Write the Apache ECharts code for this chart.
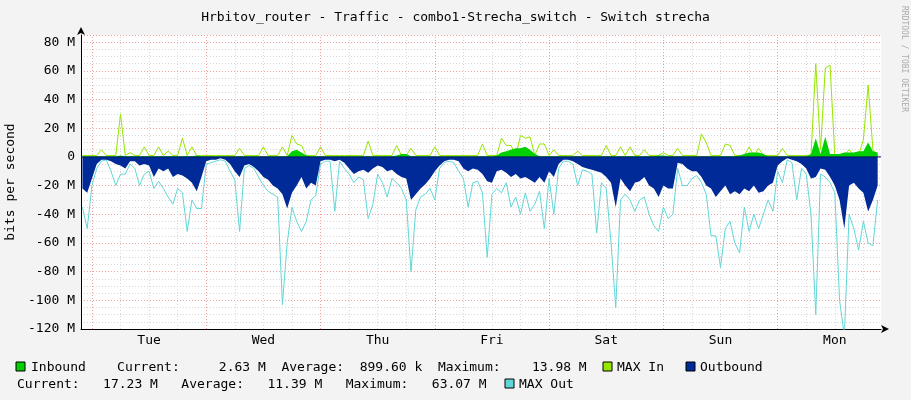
<!DOCTYPE html>
<html><head><meta charset="utf-8">
<script src="https://cdn.jsdelivr.net/npm/echarts@6/dist/echarts.min.js"></script>
<style>html,body{margin:0;padding:0;background:#f3f3f3}#c{width:911px;height:400px}</style>
</head><body><div id="c"></div>
<script>
const START_HOUR = -2;
const dayLabels = ['Tue','Wed','Thu','Fri','Sat','Sun','Mon'];
const yTicks = [-120,-100,-80,-60,-40,-20,0,20,40,60,80];
// hourly samples, Mbit/s, from hour -2 to 165 (hour 0 = Tue 00:00)
const maxOut = [-35,-50,-20,-8,-3,-2,-10,-20,-12,-12,-5,-8,-20,-12,-10,-22,-17,-22,-28,-33,-22,-25,-52,-30,-36,-36,
 -5,-4,-3,-2,-3,-10,-16,-52,-8,-6,-8,-14,-20,-24,-26,-28,-103,-60,-35,-45,-52,-45,-30,-27,
 -5,-3,-3,-38,-3,-8,-12,-18,-14,-16,-43,-33,-12,-18,-28,-15,-18,-22,-30,-80,-37,-28,-26,-22,
 -30,-8,-4,-3,-4,-10,-15,-35,-18,-17,-25,-70,-26,-22,-25,-18,-35,-28,-40,-25,-38,-33,-24,-50,
 -15,-40,-8,-3,-3,-5,-20,-9,-10,-12,-53,-18,-22,-60,-105,-30,-26,-30,-38,-30,-28,-40,-48,-52,
 -35,-43,-40,-8,-20,-20,-15,-13,-18,-26,-55,-55,-77,-50,-45,-60,-67,-35,-52,-40,-50,-40,-30,-38,
 -10,-18,-2,-4,-30,-8,-12,-40,-110,-12,-14,-18,-25,-100,-125,-40,-50,-65,-45,-60,-62,-30];
const outbound = [-22,-25,-15,-5,-2,-2,-3,-5,-6,-8,-3,-3,-6,-5,-6,-14,-8,-10,-8,-14,-12,-13,-15,-18,-24,-14,
 -3,-2,-2,-1,-2,-5,-10,-14,-6,-5,-7,-10,-14,-16,-20,-22,-26,-36,-25,-20,-14,-22,-18,-20,
 -3,-2,-2,-3,-2,-4,-8,-12,-10,-9,-11,-8,-6,-7,-10,-9,-12,-14,-15,-30,-26,-22,-19,-15,
 -10,-6,-3,-2,-2,-3,-8,-10,-8,-9,-12,-17,-18,-10,-9,-11,-14,-12,-15,-14,-16,-18,-14,-18,
 -10,-14,-5,-2,-2,-3,-5,-7,-8,-9,-10,-11,-14,-18,-35,-15,-20,-24,-18,-17,-14,-20,-22,-28,
 -20,-22,-22,-4,-5,-8,-10,-10,-14,-20,-22,-28,-24,-20,-26,-24,-26,-22,-24,-20,-25,-24,-20,-18,
 -6,-3,-1,-2,-3,-5,-8,-15,-14,-8,-9,-14,-20,-30,-50,-20,-18,-22,-25,-38,-30,-20];
const maxIn = [
 1,1,1,1,5,1,1,1,30,1,3,1,
 1,7,1,1,7,1,4,1,1,13,1,7,
 1,1,1,1,1,1,1,1,1,6,1,1,
 1,1,7,1,1,1,7,1,15,9,8,1,
 1,1,7,1,1,1,1,1,1,1,1,1,
 11,1,1,1,1,1,8,1,1,6,1,1,
 1,1,7,1,1,1,1,1,1,1,1,1,
 9,1,1,1,13,8,8,1,15,13,14,1,
 9,9,1,5,1,1,1,1,4,1,1,1,
 1,1,8,1,1,7,1,7,1,1,5,1,
 1,1,3,1,1,6,1,1,1,1,16,10,
 1,1,1,9,8,1,1,1,7,1,6,1,
 1,1,1,6,1,1,1,1,1,1,65,5,
 62,64,1,1,1,5,1,1,12,50,5,1];
const inbound = [
 0.5,0.5,0.5,0.5,0.5,0.5,0.5,0.5,1,0.5,0.5,0.5,
 0.5,0.5,0.5,0.5,0.5,0.5,0.5,0.5,0.5,0.5,0.5,0.5,
 1,0.5,0.5,0.5,0.5,0.5,0.5,0.5,0.5,0.5,0.5,0.5,
 0.5,0.5,0.5,0.5,0.5,0.5,0.5,0.5,4,5,3,1,
 0.5,0.5,0.5,0.5,0.5,0.5,0.5,0.5,0.5,0.5,0.5,0.5,
 0.5,0.5,0.5,0.5,0.5,0.5,1,2,2,0.5,0.5,0.5,
 0.5,0.5,0.5,0.5,0.5,0.5,0.5,0.5,0.5,0.5,0.5,0.5,
 0.5,0.5,0.5,1,3,4,5,6,6,7,5,2,
 0.5,0.5,0.5,0.5,0.5,0.5,0.5,0.5,0.5,0.5,0.5,0.5,
 0.5,0.5,0.5,0.5,0.5,0.5,0.5,0.5,0.5,0.5,0.5,0.5,
 0.5,1,1,0.5,0.5,0.5,0.5,0.5,0.5,0.5,0.5,0.5,
 0.5,0.5,0.5,0.5,0.5,0.5,1,2,3,3,3,2,
 0.5,0.5,0.5,0.5,0.5,0.5,0.5,0.5,0.5,2,13,2,
 14,2,2,2,3,3,3,4,4,10,4,3];

const hours = outbound.map((_, i) => START_HOUR + i);
const pair = arr => arr.map((v, i) => [hours[i], v]);

const vLines = [];
for (let h = 0; h <= 162; h += 6) {
  vLines.push({xAxis: h, lineStyle: {color: h % 24 === 0 ? '#f0a0a0' : '#d8d8d8', type: [1,2], width: 1}});
}
const mono = 'DejaVu Sans Mono';
const chart = echarts.init(document.getElementById('c'));
chart.setOption({
  backgroundColor: '#f3f3f3',
  animation: false,
  title: {text: 'Hrbitov_router - Traffic - combo1-Strecha_switch - Switch strecha', left: 'center', top: 6,
    textStyle: {fontFamily: mono, fontSize: 13, fontWeight: 'normal', color: '#000'}},
  grid: {left: 81, right: 30, top: 35, bottom: 71, backgroundColor: '#fff', show: true, borderWidth: 0, outerBoundsMode: 'none', containLabel: false},
  xAxis: {type: 'value', min: -2.3, max: 165.7,
    axisLine: {onZero: false, lineStyle: {color: '#000'}, symbol: ['none','arrow'], symbolSize: [6,8], symbolOffset: [0,8]},
    axisTick: {show: false}, splitLine: {show: false},
    axisLabel: {customValues: dayLabels.map((_, i) => 12 + 24 * i), formatter: v => dayLabels[Math.round((v - 12) / 24)],
      fontFamily: mono, fontSize: 13, color: '#000', margin: 5}},
  yAxis: {type: 'value', min: -120, max: 85, interval: 20,
    axisLine: {show: true, onZero: false, lineStyle: {color: '#000'}, symbol: ['none','arrow'], symbolSize: [6,8], symbolOffset: [0,8]},
    axisTick: {show: false},
    axisLabel: {customValues: yTicks, formatter: v => v === 0 ? '0' : v + ' M', fontFamily: mono, fontSize: 13, color: '#000', margin: 6},
    splitLine: {show: true, lineStyle: {color: '#f0a0a0', type: [1,2]}},
    minorTick: {show: false, splitNumber: 4},
    minorSplitLine: {show: true, lineStyle: {color: '#d8d8d8', type: [1,2]}},
    name: 'bits per second', nameLocation: 'middle', nameGap: 62, nameRotate: 90,
    nameTextStyle: {fontFamily: mono, fontSize: 13, color: '#000'}},
  series: [
    {type: 'line', data: [], z: 1, markLine: {silent: true, symbol: 'none', label: {show: false}, data: vLines, z: 1}},
    {name: 'MAX Out', type: 'line', data: pair(maxOut), showSymbol: false, lineStyle: {color: '#62d6d6', width: 1}, z: 3},
    {name: 'Outbound', type: 'line', data: pair(outbound), showSymbol: false, lineStyle: {width: 0}, areaStyle: {color: '#002a97', opacity: 1}, z: 4},
    {name: 'MAX In', type: 'line', data: pair(maxIn), showSymbol: false, lineStyle: {color: '#96e600', width: 1}, z: 3},
    {name: 'Inbound', type: 'line', data: pair(inbound), showSymbol: false, lineStyle: {width: 0}, areaStyle: {color: '#00cf00', opacity: 1}, z: 4},
    {type: 'line', data: [[-2.3, 0], [165.7, 0]], showSymbol: false, lineStyle: {color: '#001a60', width: 1}, z: 5}
  ],
  graphic: [
    {type: 'text', x: 908, y: 6, rotation: -Math.PI / 2, style: {text: 'RRDTOOL / TOBI OETIKER', fontFamily: mono, fontSize: 8, fill: '#aaa'}},
    {type: 'rect', shape: {x: 16, y: 362, width: 9, height: 9}, style: {fill: '#00cf00', stroke: '#000'}},
    {type: 'text', x: 31, y: 361, style: {text: 'Inbound    Current:     2.63 M  Average:  899.60 k  Maximum:    13.98 M', fontFamily: mono, fontSize: 13, fill: '#000'}},
    {type: 'rect', shape: {x: 603, y: 362, width: 9, height: 9}, style: {fill: '#96e600', stroke: '#000'}},
    {type: 'text', x: 617, y: 361, style: {text: 'MAX In', fontFamily: mono, fontSize: 13, fill: '#000'}},
    {type: 'rect', shape: {x: 686, y: 362, width: 9, height: 9}, style: {fill: '#002a97', stroke: '#000'}},
    {type: 'text', x: 700, y: 361, style: {text: 'Outbound', fontFamily: mono, fontSize: 13, fill: '#000'}},
    {type: 'text', x: 17, y: 378, style: {text: 'Current:   17.23 M   Average:   11.39 M   Maximum:   63.07 M', fontFamily: mono, fontSize: 13, fill: '#000'}},
    {type: 'rect', shape: {x: 505, y: 379, width: 9, height: 9}, style: {fill: '#62d6d6', stroke: '#000'}},
    {type: 'text', x: 519, y: 378, style: {text: 'MAX Out', fontFamily: mono, fontSize: 13, fill: '#000'}}
  ]
});
</script></body></html>
